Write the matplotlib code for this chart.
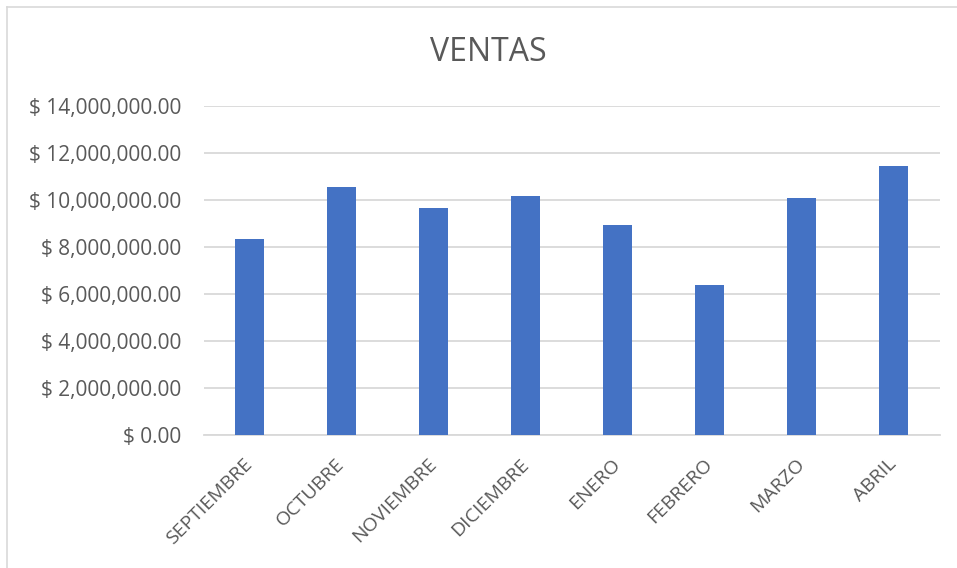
import matplotlib.pyplot as plt
from matplotlib.ticker import FuncFormatter
from matplotlib.lines import Line2D

meses = ['SEPTIEMBRE', 'OCTUBRE', 'NOVIEMBRE', 'DICIEMBRE', 'ENERO', 'FEBRERO', 'MARZO', 'ABRIL']
ventas = [8340000, 10550000, 9660000, 10160000, 8930000, 6380000, 10110000, 11450000]
yticks = [0, 2000000, 4000000, 6000000, 8000000, 10000000, 12000000, 14000000]

gris = '#595959'
plt.rcParams['font.family'] = ['Open Sans', 'DejaVu Sans']

fig = plt.figure(figsize=(9.57, 5.68), dpi=100)
ax = fig.add_axes([0.213, 0.234, 0.769, 0.579])

x = range(len(meses))
ax.bar(x, ventas, width=0.315, color='#4472C4', zorder=3)

ax.set_xlim(-0.5, len(meses) - 0.5)
ax.set_ylim(0, 14000000)
ax.set_yticks(yticks)
ax.yaxis.set_major_formatter(FuncFormatter(lambda v, p: '$ {:,.2f}'.format(v)))
ax.set_xticks(list(x))
ax.set_xticklabels(meses, rotation=45, ha='right', va='center', rotation_mode='anchor', fontsize=14)

ax.grid(axis='y', color='#D9D9D9', linewidth=1.3, zorder=0)
for s in ['top', 'right', 'left']:
    ax.spines[s].set_visible(False)
ax.spines['bottom'].set_color('#D9D9D9')
ax.spines['bottom'].set_linewidth(1.3)
ax.tick_params(axis='y', length=0, labelsize=15, colors=gris, pad=16)
ax.tick_params(axis='x', length=0, colors=gris, pad=19)

fig.text(0.51, 0.908, 'VENTAS', ha='center', va='center', fontsize=23, color=gris)

# borde del area del grafico
fig.add_artist(Line2D([7 / 957, 1], [1 - 7 / 568, 1 - 7 / 568], color='#D9D9D9', linewidth=1.2))
fig.add_artist(Line2D([7 / 957, 7 / 957], [0, 1 - 7 / 568], color='#D9D9D9', linewidth=1.2))

fig.savefig('out.png', dpi=100)
